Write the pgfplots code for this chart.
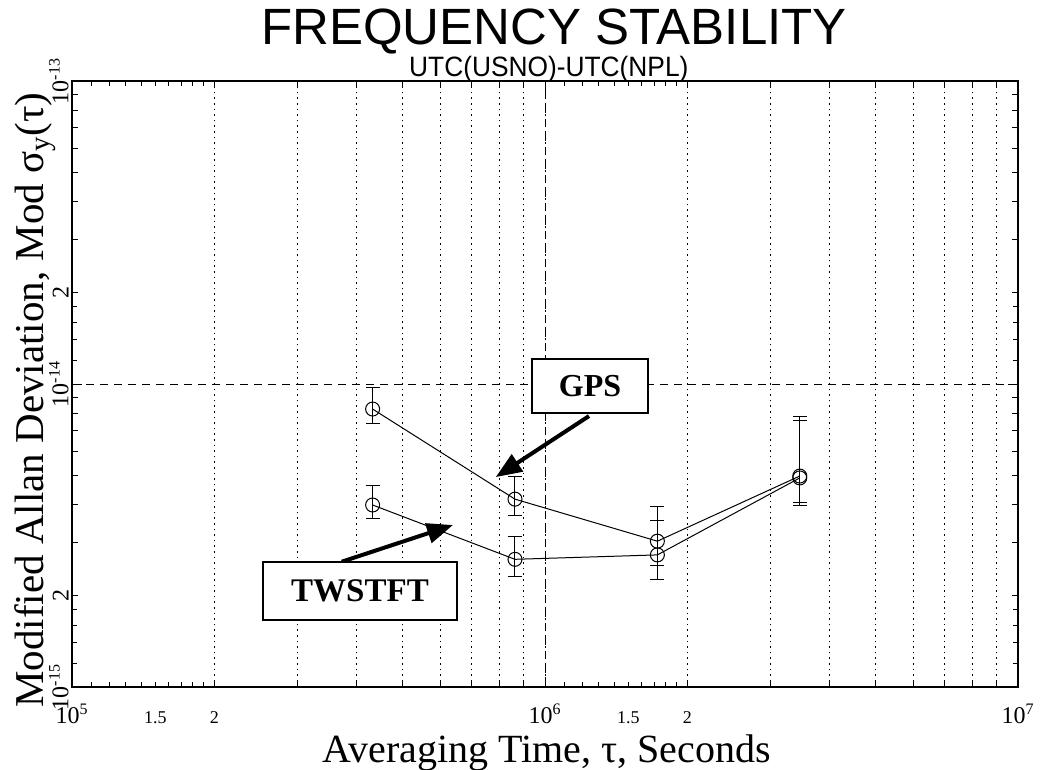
\documentclass[border=0pt]{standalone}
\usepackage{fontspec}
\setmainfont{Liberation Serif}
\newfontfamily\titlefont{Liberation Sans}
\usepackage{graphicx}
\usepackage{pgfplots}
\pgfplotsset{compat=1.18}
\usetikzlibrary{arrows.meta}
\newcommand{\tlf}{\fontsize{12}{12}\selectfont}
\newcommand{\slf}{\fontsize{9}{9}\selectfont}
\begin{document}
\begin{tikzpicture}
\begin{axis}[
  scale only axis, width=473pt, height=303pt,
  xmode=log, ymode=log,
  xmin=1e5, xmax=1e7, ymin=1e-15, ymax=1e-13,
  clip=false,
  axis line style={line width=0.9pt},
  tick style={black, line width=0.5pt},
  major tick length=5pt, minor tick length=3pt,
  xtick={1e5,1e6,1e7},
  xticklabels={10\textsuperscript{5},10\textsuperscript{6},10\textsuperscript{7}},
  ytick={1e-15,1e-14,1e-13},
  yticklabels={10\textsuperscript{-15},10\textsuperscript{-14},10\textsuperscript{-13}},
  xticklabel style={font=\tlf, anchor=base, yshift=-18pt},
  yticklabel style={font=\tlf, rotate=90, anchor=south, inner sep=1.5pt},
  extra x ticks={1.1e5,1.2e5,1.3e5,1.4e5,1.5e5,1.6e5,1.7e5,1.8e5,1.9e5,2e5,1.1e6,1.2e6,1.3e6,1.4e6,1.5e6,1.6e6,1.7e6,1.8e6,1.9e6,2e6},
  extra x tick labels={,,,,{\slf 1.5},,,,,{\slf 2},,,,,{\slf 1.5},,,,,{\slf 2}},
  extra x tick style={grid=none, major tick length=2.5pt},
  extra y ticks={1.2e-15,1.4e-15,1.6e-15,1.8e-15,2e-15,1.2e-14,1.4e-14,1.6e-14,1.8e-14,2e-14},
  extra y tick labels={,,,,{\tlf 2},,,,,{\tlf 2}},
  extra y tick style={grid=none, major tick length=2.5pt},
  xmajorgrids=true, xminorgrids=true, ymajorgrids=true,
  major grid style={black, line width=0.5pt, dash pattern=on 4pt off 3pt},
  minor grid style={black, line width=0.45pt, dash pattern=on 0.8pt off 2pt},
  xlabel={Averaging Time, τ, Seconds},
  xlabel style={font=\fontsize{20}{20}\selectfont, at={(axis description cs:0.502,-0.1238)}, anchor=base},
  ylabel={Modified Allan Deviation, Mod σ\textsubscript{y}(τ)},
  ylabel style={font=\fontsize{20.5}{20.5}\selectfont, at={(axis description cs:-0.0391,0.4736)}, anchor=center},
]
\coordinate (SW) at (rel axis cs:0,0);
\coordinate (NE) at (rel axis cs:1,1);

% GPS
\addplot[black, line width=0.5pt, mark=o, mark size=3.5pt,
  error bars/.cd, y dir=both, y explicit,
  error bar style={line width=0.5pt},
  error mark options={rotate=90, mark size=3.5pt, line width=0.5pt}]
coordinates {
  (432000,8.27e-15) += (0,1.50e-15) -= (0,0.84e-15)
  (864000,4.17e-15) += (0,0.79e-15) -= (0,0.50e-15)
  (1728000,3.03e-15) += (0,0.92e-15) -= (0,0.52e-15)
  (3456000,4.97e-15) += (0,2.84e-15) -= (0,0.89e-15)
};
% TWSTFT
\addplot[black, line width=0.5pt, mark=o, mark size=3.5pt,
  error bars/.cd, y dir=both, y explicit,
  error bar style={line width=0.5pt},
  error mark options={rotate=90, mark size=3.5pt, line width=0.5pt}]
coordinates {
  (432000,3.99e-15) += (0,0.62e-15) -= (0,0.38e-15)
  (864000,2.64e-15) += (0,0.51e-15) -= (0,0.32e-15)
  (1728000,2.73e-15) += (0,0.82e-15) -= (0,0.46e-15)
  (3456000,4.90e-15) += (0,2.70e-15) -= (0,0.94e-15)
};

% annotations
\draw[line width=2pt, -{Triangle[length=13pt,width=10pt]}] (rel axis cs:0.5465,0.4472) -- (rel axis cs:0.4479,0.3465);
\node[draw, line width=1.2pt, fill=white, minimum width=58pt, minimum height=27pt, inner sep=0pt,
  font=\bfseries\fontsize{16}{16}\selectfont] at (rel axis cs:0.5476,0.4967) {GPS};
\draw[line width=2pt, -{Triangle[length=13pt,width=10pt]}] (rel axis cs:0.2851,0.2068) -- (rel axis cs:0.4027,0.2673);
\node[draw, line width=1.2pt, fill=white, minimum width=97pt, minimum height=29pt, inner sep=0pt,
  font=\bfseries\fontsize{16.5}{16.5}\selectfont] at (rel axis cs:0.3044,0.1584) {TWSTFT};

% titles
\node[anchor=base, yshift=18.5pt, inner sep=0pt, font=\titlefont\fontsize{25.5}{25.5}\selectfont]
  at (rel axis cs:0.5095,1) {FREQUENCY STABILITY};
\node[anchor=base, yshift=2.5pt, inner sep=0pt, font=\titlefont\fontsize{14}{14}\selectfont]
  at (rel axis cs:0.504,1) {\scalebox{0.94}[1]{UTC(USNO)-UTC(NPL)}};
\end{axis}
\pgfresetboundingbox
\path[use as bounding box] ([xshift=-36pt,yshift=-41.5pt]SW) rectangle ([xshift=11pt,yshift=40.5pt]NE);
\end{tikzpicture}
\end{document}
